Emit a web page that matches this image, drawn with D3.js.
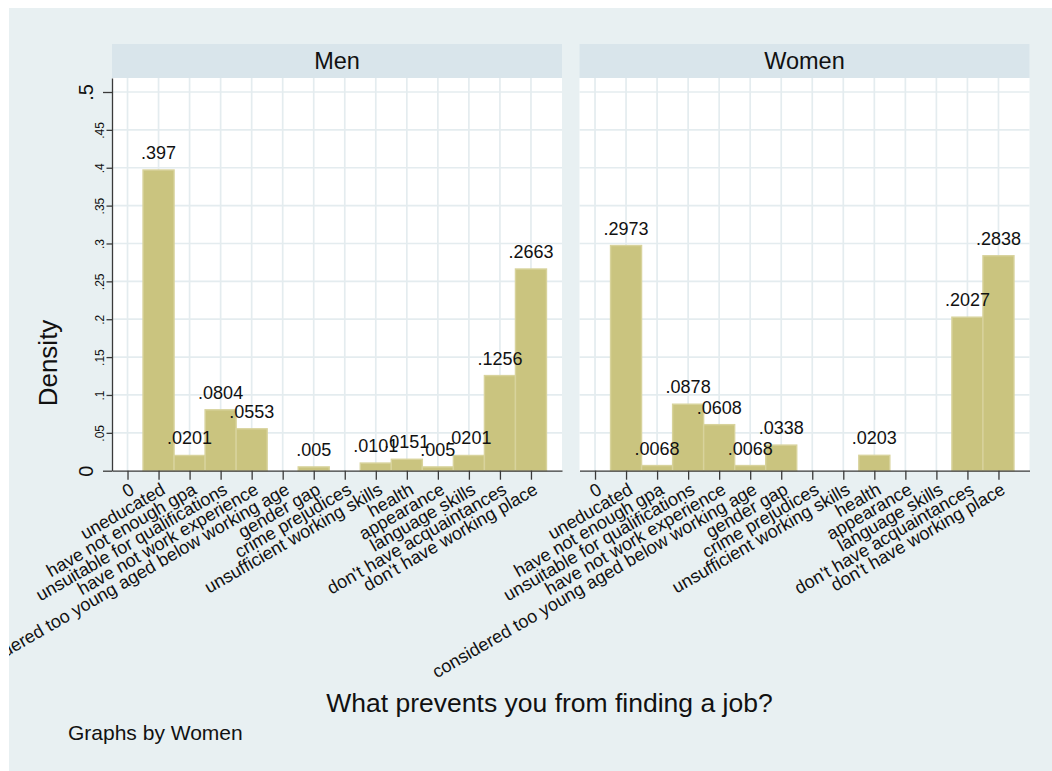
<!DOCTYPE html>
<html>
<head>
<meta charset="utf-8">
<script src="https://cdn.jsdelivr.net/npm/d3@7"></script>
<style>
  body { margin: 0; background: #fff; }
  text { font-family: "Liberation Sans", Arial, Helvetica, sans-serif; fill: #111; }
</style>
</head>
<body>
<div class="chart"></div>
<script>
// data
var categories = ["0", "uneducated", "have not enough gpa", "unsuitable for qualifications",
  "have not  work experience", "considered too young aged below working age", "gender gap",
  "crime prejudices", "unsufficient working skills", "health", "appearance", "language skills",
  "don't have acquaintances", "don't have working place"];
var panelNames = ["Men", "Women"];
var menDensity = [0, .397, .0201, .0804, .0553, 0, .005, 0, .0101, .0151, .005, .0201, .1256, .2663];
var womenDensity = [0, .2973, .0068, .0878, .0608, .0068, .0338, 0, 0, .0203, 0, 0, .2027, .2838];
var yTicks = [0, .05, .1, .15, .2, .25, .3, .35, .4, .45, .5];
var yMajor = [0, .5];

var svgWidth = 1052, svgHeight = 771;
var plotTop = 78, plotBottom = 470.7, stripTop = 44;
var panelX = [[112, 562], [579.5, 1029.5]];

var svg = d3.select(".chart").append("svg")
  .attr("width", svgWidth)
  .attr("height", svgHeight);

svg.append("clipPath").attr("id", "region")
  .append("rect").attr("x", 9).attr("y", 8).attr("width", svgWidth - 9).attr("height", svgHeight - 8);

var chart = svg.append("g").attr("clip-path", "url(#region)");

chart.append("rect")
  .attr("x", 9).attr("y", 8)
  .attr("width", svgWidth - 9).attr("height", svgHeight - 8)
  .attr("fill", "#e8f0f2");

// y scale shared by both panels, .5 sits at y=92
var yTop = .5 * (plotBottom - plotTop) / (plotBottom - 92);
var y = d3.scaleLinear().domain([0, yTop]).range([plotBottom, plotTop]);

function fmt(v) { return String(v).replace(/^0(?=\.)/, ""); }

[menDensity, womenDensity].forEach(function(values, p) {
  var x = d3.scaleLinear().domain([-0.5, 14]).range(panelX[p]);
  var g = chart.append("g");

  // strip with panel name
  g.append("rect")
    .attr("x", panelX[p][0]).attr("y", stripTop)
    .attr("width", panelX[p][1] - panelX[p][0]).attr("height", plotTop - stripTop)
    .attr("fill", "#d9e5eb");
  g.append("text")
    .attr("x", (panelX[p][0] + panelX[p][1]) / 2).attr("y", 68.5)
    .attr("text-anchor", "middle").attr("font-size", 23.5)
    .text(panelNames[p]);

  // plot area
  g.append("rect")
    .attr("x", panelX[p][0]).attr("y", plotTop)
    .attr("width", panelX[p][1] - panelX[p][0]).attr("height", plotBottom - plotTop)
    .attr("fill", "#fff");

  // grid
  g.selectAll(".hgrid").data(yTicks.slice(1)).enter().append("line")
    .attr("x1", panelX[p][0]).attr("x2", panelX[p][1])
    .attr("y1", function(d) { return y(d); }).attr("y2", function(d) { return y(d); })
    .attr("stroke", "#e4ecef").attr("stroke-width", 1.7);
  g.selectAll(".vgrid").data(d3.range(categories.length)).enter().append("line")
    .attr("x1", function(d) { return x(d); }).attr("x2", function(d) { return x(d); })
    .attr("y1", plotTop).attr("y2", plotBottom)
    .attr("stroke", "#e4ecef").attr("stroke-width", 1.7);

  // bars
  var bars = values.map(function(v, i) { return { i: i, v: v }; })
    .filter(function(d) { return d.v > 0; });
  g.selectAll(".bar").data(bars).enter().append("rect")
    .attr("x", function(d) { return x(d.i - 0.5); })
    .attr("y", function(d) { return y(d.v); })
    .attr("width", function(d) { return x(d.i + 0.5) - x(d.i - 0.5); })
    .attr("height", function(d) { return y(0) - y(d.v); })
    .attr("fill", "#cac47f")
    .attr("stroke", "#d8d39c")
    .attr("stroke-width", 1.4);

  g.selectAll(".lab").data(bars).enter().append("text")
    .attr("x", function(d) { return x(d.i); })
    .attr("y", function(d) { return y(d.v) - 11; })
    .attr("text-anchor", "middle").attr("font-size", 18)
    .text(function(d) { return fmt(d.v); });

  // x axis
  var xAxis = g.append("g")
    .attr("transform", "translate(0," + plotBottom + ")")
    .call(d3.axisBottom(x).tickValues(d3.range(categories.length))
      .tickFormat(function(i) { return categories[i]; })
      .tickSize(9).tickSizeOuter(0));
  xAxis.select(".domain").attr("stroke", "#3a3a3a").attr("stroke-width", 1.3);
  xAxis.selectAll(".tick line").attr("stroke", "#3a3a3a").attr("stroke-width", 1.3);
  xAxis.selectAll(".tick text")
    .attr("x", 0).attr("y", 0).attr("dy", "0.72em")
    .attr("transform", "translate(1,11) rotate(-30)")
    .style("text-anchor", "end")
    .attr("font-size", 18).attr("font-family", null).attr("fill", "#111");

  // y axis only on the first panel
  if (p === 0) {
    var yAxis = g.append("g")
      .attr("transform", "translate(" + panelX[p][0] + ",0)")
      .call(d3.axisLeft(y).tickValues(yTicks).tickFormat(fmt).tickSizeOuter(0));
    yAxis.select(".domain").attr("stroke", "#3a3a3a").attr("stroke-width", 1.3);
    yAxis.selectAll(".tick line")
      .attr("x2", function(d) { return yMajor.indexOf(d) >= 0 ? -9 : -5.5; })
      .attr("stroke", "#3a3a3a").attr("stroke-width", 1.3);
    yAxis.selectAll(".tick text")
      .attr("x", 0).attr("y", 0).attr("dy", 0)
      .attr("transform", function(d) { return "translate(" + (yMajor.indexOf(d) >= 0 ? -19 : -8.5) + ",0) rotate(-90)"; })
      .style("text-anchor", "middle")
      .attr("font-family", null).attr("fill", "#111")
      .attr("font-size", function(d) { return yMajor.indexOf(d) >= 0 ? 20 : 12; });
  }
});

// titles
chart.append("text")
  .attr("transform", "translate(56.5,363) rotate(-90)")
  .attr("text-anchor", "middle").attr("font-size", 26)
  .text("Density");

chart.append("text")
  .attr("x", 549.5).attr("y", 712)
  .attr("text-anchor", "middle").attr("font-size", 26.5)
  .text("What prevents you from finding a job?");

chart.append("text")
  .attr("x", 68).attr("y", 740)
  .attr("font-size", 21)
  .text("Graphs by Women");
</script>
</body>
</html>
